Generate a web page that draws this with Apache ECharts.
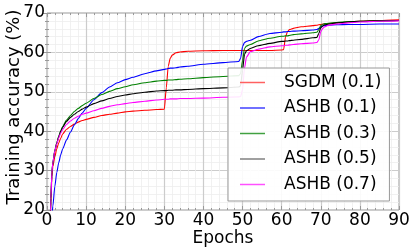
<!DOCTYPE html>
<html><head><meta charset="utf-8">
<script src="https://cdn.jsdelivr.net/npm/echarts@6/dist/echarts.min.js"></script>
<style>html,body{margin:0;padding:0;background:#fff}#c{width:415px;height:252px}</style>
</head><body><div id="c"></div>
<script>
const epochs = [0.8,1,1.25,1.5,2, 2.5,3,3.5,4,5, 6,7,8,9,10, 12,14,16,18,20, 22,25,28,30,30.5, 31,31.5,32,33,34, 36,40,45,49,49.5, 50,50.5,51,52,54, 57,60,60.5,61,61.5, 62,63,65,68,69, 69.5,70,70.5,71,72, 74,77,80,85,90];
const sgdm01 = [18,22,28.5,31,33.5, 35.5,37,38.2,39.3,40.5, 41.2,41.8,42.3,42.7,43, 43.5,44,44.3,44.6,44.9, 45.1,45.3,45.5,45.6,51, 56.5,58.5,59.3,59.9,60.1, 60.3,60.4,60.5,60.5,60.5, 60.5,60.5,60.5,60.5,60.5, 60.5,60.6,60.7,64,65.3, 65.8,66.1,66.5,66.8,66.9, 67,67.1,67.2,67.2,67.3, 67.5,67.7,67.9,68.1,68.3];
const ashb01 = [14,16,18.5,21,26, 29.5,32,34,35.5,37.8, 39.8,41.6,43.2,44.6,45.8, 48,49.8,51.2,52.3,53.1, 53.7,54.6,55.3,55.7,55.8, 55.9,56,56,56.1,56.3, 56.5,57,57.4,57.7,58.5, 61.5,62.5,62.8,63.1,64, 64.8,65.1,65.2,65.2,65.3, 65.3,65.4,65.5,65.7,65.8, 66.1,66.5,66.7,66.8,66.9, 67,67.1,67.1,67.2,67.2];
const ashb03 = [16,23,29.5,32,35, 37,38.7,40.1,41.2,42.8, 44,45,45.8,46.5,47.1, 48.3,49.3,50.1,50.8,51.3, 51.8,52.3,52.7,52.9,52.9, 53,53,53,53.1,53.2, 53.3,53.6,53.9,54.1,54.6, 58,61,61.6,62,62.9, 63.6,64.1,64.1,64.2,64.2, 64.3,64.5,64.7,65,65.1, 65.8,66.8,67.1,67.3,67.4, 67.6,67.8,67.9,68,68.1];
const ashb05 = [16,23,29.5,32,35, 37,38.6,39.9,41,42.5, 43.5,44.3,45,45.6,46.1, 47,47.7,48.3,48.8,49.2, 49.5,49.9,50.2,50.3,50.3, 50.4,50.4,50.4,50.5,50.5, 50.6,50.8,51,51.2,51.5, 55.5,59.5,60.4,61,61.7, 62.3,62.8,62.8,62.9,62.9, 63,63.1,63.3,63.7,63.8, 64.8,66.3,66.7,67,67.2, 67.5,67.7,67.9,68,68.1];
const ashb07 = [16,23,29.5,32,35, 36.8,38.3,39.5,40.4,41.7, 42.6,43.3,43.8,44.3,44.6, 45.2,45.8,46.3,46.7,47, 47.3,47.6,47.9,48.1,48.1, 48.1,48.2,48.2,48.2,48.3, 48.3,48.4,48.6,48.7,48.8, 50.5,56,58.8,60.2,60.8, 61.4,61.7,61.7,61.8,61.8, 61.9,62,62.2,62.4,62.5, 63.2,65.3,66.1,66.5,66.9, 67.2,67.5,67.7,67.9,68];
const seriesNames = ['SGDM (0.1)','ASHB (0.1)','ASHB (0.3)','ASHB (0.5)','ASHB (0.7)'];
const seriesValues = [sgdm01, ashb01, ashb03, ashb05, ashb07];
const colors = ['#ff0000','#0000ff','#008000','#000000','#ff00ff'];
const legendColors = ['#ff6060','#4040ff','#40a040','#808080','#ff50ff'];

const chart = echarts.init(document.getElementById('c'), null, {renderer:'canvas'});
const font = 'DejaVu Sans';
const series = seriesNames.map((n,i)=>({
  name:n, type:'line', showSymbol:false, symbol:'none',
  smooth:0.2, smoothMonotone:'x', clip:true,
  lineStyle:{color:colors[i], width:1.1}, itemStyle:{color:colors[i]},
  data: epochs.map((e,j)=>[e, seriesValues[i][j]]), z:2, animation:false
}));
const tickCommon = {show:true, inside:true, length:4, lineStyle:{color:'#999'}};
const minorCommon = {show:true, splitNumber:5, length:2, lineStyle:{color:'#999'}};
chart.setOption({
  animation:false,
  grid:{left:47, right:16, top:13, bottom:42, show:true, borderColor:'#999', borderWidth:1,
        containLabel:false, outerBoundsMode:'none'},
  legend:{
    orient:'vertical', left:228, top:68,
    data: seriesNames.map((n,i)=>({name:n, icon:'rect', itemStyle:{color:legendColors[i], borderWidth:0}})),
    itemWidth:25, itemHeight:1.5, itemGap:8.5,
    padding:[6,8,8,12],
    backgroundColor:'rgba(255,255,255,0.9)', borderColor:'#999', borderWidth:1, borderRadius:0,
    textStyle:{fontFamily:font, fontSize:17, color:'#000', lineHeight:17, height:17, padding:[0,0,0,14]},
    selectedMode:false, z:10
  },
  xAxis:[{
    type:'value', min:0, max:90, interval:10,
    name:'Epochs', nameLocation:'middle', nameGap:20, nameMoveOverlap:false,
    nameTextStyle:{fontFamily:font, fontSize:17, color:'#000'},
    axisLine:{show:false}, axisTick:tickCommon, minorTick:minorCommon,
    axisLabel:{fontFamily:font, fontSize:17, color:'#000', margin:2},
    splitLine:{show:true, lineStyle:{color:'#cccccc', width:1.2}},
    minorSplitLine:{show:true, lineStyle:{color:'#eeeeee', width:0.8}}
  },{
    type:'value', min:0, max:90, interval:10, position:'top',
    axisLine:{show:false}, axisLabel:{show:false},
    axisTick:tickCommon, minorTick:minorCommon, splitLine:{show:false}
  }],
  yAxis:[{
    type:'value', min:20, max:70, interval:10,
    name:'Training accuracy (%)', nameLocation:'middle', nameGap:24, nameMoveOverlap:false,
    nameTextStyle:{fontFamily:font, fontSize:18, color:'#000', padding:[0,0,0,9]},
    axisLine:{show:false}, axisTick:tickCommon, minorTick:minorCommon,
    axisLabel:{fontFamily:font, fontSize:17, color:'#000', margin:2},
    splitLine:{show:true, lineStyle:{color:'#cccccc', width:1.2}},
    minorSplitLine:{show:true, lineStyle:{color:'#eeeeee', width:0.8}}
  },{
    type:'value', min:20, max:70, interval:10, position:'right',
    axisLine:{show:false}, axisLabel:{show:false},
    axisTick:tickCommon, minorTick:minorCommon, splitLine:{show:false}
  }],
  series: series
});
</script></body></html>
